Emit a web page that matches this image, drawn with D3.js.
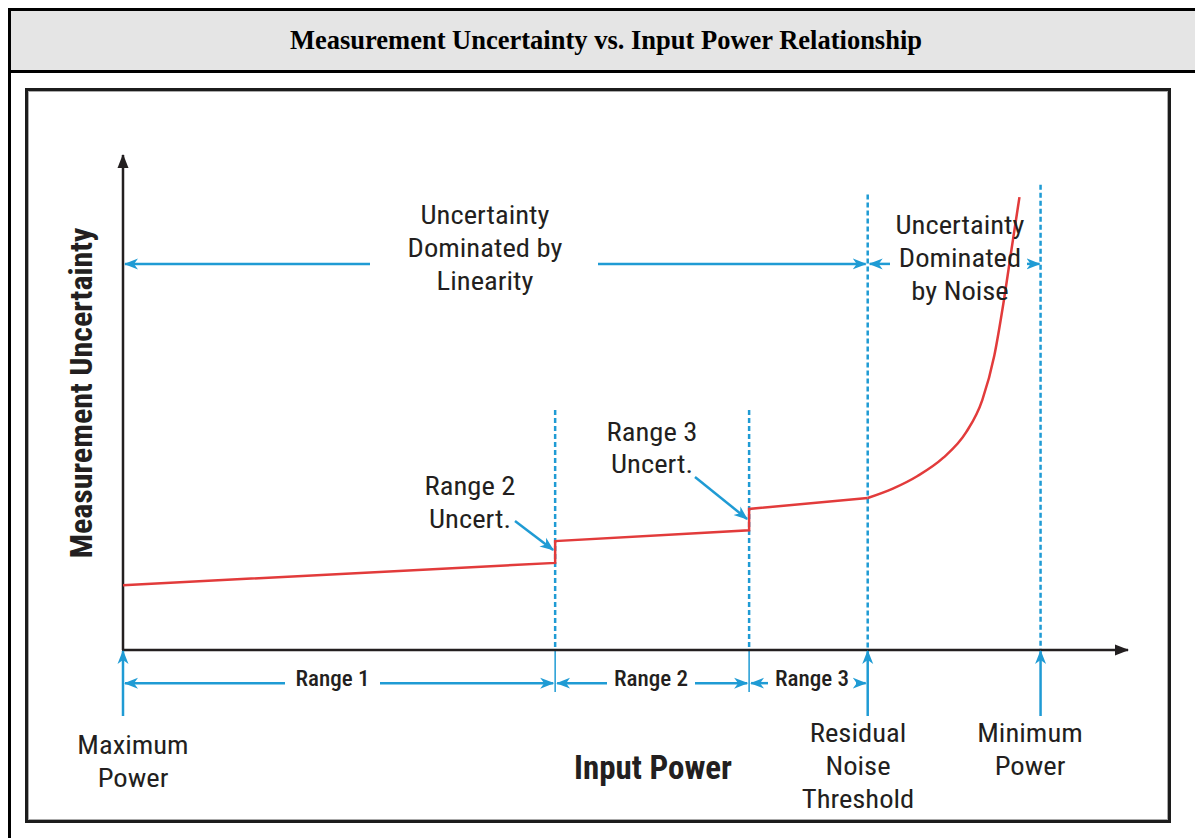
<!DOCTYPE html>
<html>
<head>
<meta charset="utf-8">
<script src="https://cdnjs.cloudflare.com/ajax/libs/d3/7.8.5/d3.min.js"></script>
<style>
  html, body { margin: 0; padding: 0; background: #fff; overflow: hidden; }
  svg { display: block; }
  .cond { font-family: "Liberation Sans Narrow", "Arial Narrow", "Roboto Condensed", sans-serif; fill: #231f20; }
</style>
</head>
<body>
<svg id="chart" width="1195" height="838"></svg>
<script>
// red uncertainty curve, linear part (steps at range changes)
var stepX = [0, 43, 43, 62.3, 62.3, 74.1];
var stepY = [13.1, 17.6, 22.0, 24.2, 28.5, 30.7];
// noise dominated part
var noiseX = [74.1, 76.6, 79.1, 81.6, 83.9, 85.5, 86.7, 87.6, 88.4, 89.2];
var noiseY = [30.7, 32.6, 35.2, 38.8, 44.0, 50.5, 59.5, 70.0, 80.8, 91.5];
// boundaries: max power, range 2, range 3, residual noise, min power
var bounds = [0, 43, 62.3, 74.1, 91.3];
var rangeNames = ["Range 1", "Range 2", "Range 3"];

var title = "Measurement Uncertainty vs. Input Power Relationship";
var blue = "#1f9bd4", red = "#e23b3b", ink = "#231f20";

var svg = d3.select("#chart");

// header cell + table borders
svg.append("rect").attr("x", 9.5).attr("y", 9.5).attr("width", 1210).attr("height", 62)
  .attr("fill", "#e5e5e5").attr("stroke", "#000").attr("stroke-width", 3);
svg.append("line").attr("x1", 9.5).attr("x2", 9.5).attr("y1", 72).attr("y2", 845)
  .attr("stroke", "#000").attr("stroke-width", 3);
svg.append("text").attr("x", 606).attr("y", 49).attr("text-anchor", "middle")
  .attr("font-family", "'Liberation Serif', 'Times New Roman', serif")
  .attr("font-weight", "bold").attr("font-size", 26.5).text(title);

// picture frame
svg.append("rect").attr("x", 26.5).attr("y", 89.5).attr("width", 1143).attr("height", 732)
  .attr("fill", "#fff").attr("stroke", "#1c1c1c").attr("stroke-width", 3);
svg.append("rect").attr("x", 28.5).attr("y", 91.5).attr("width", 1139).attr("height", 728)
  .attr("fill", "none").attr("stroke", "#aaa").attr("stroke-width", 1);

var x = d3.scaleLinear().domain([0, 100]).range([123, 1128]);
var y = d3.scaleLinear().domain([0, 100]).range([650, 155]);

var defs = svg.append("defs");
defs.append("marker").attr("id", "blueHead").attr("viewBox", "0 -6 14 12")
  .attr("refX", 13).attr("refY", 0).attr("markerWidth", 14).attr("markerHeight", 12)
  .attr("markerUnits", "userSpaceOnUse").attr("orient", "auto")
  .append("path").attr("d", "M0,-5.5L14,0L0,5.5L4,0Z").attr("fill", blue);
defs.append("marker").attr("id", "blackHead").attr("viewBox", "0 -6 14 12")
  .attr("refX", 13).attr("refY", 0).attr("markerWidth", 14).attr("markerHeight", 12)
  .attr("markerUnits", "userSpaceOnUse").attr("orient", "auto")
  .append("path").attr("d", "M0,-5.5L14,0L0,5.5Z").attr("fill", ink);

function arrow(x1, y1, x2, y2) {
  svg.append("line").attr("x1", x1).attr("y1", y1).attr("x2", x2).attr("y2", y2)
    .attr("stroke", blue).attr("stroke-width", 2.5).attr("marker-end", "url(#blueHead)");
}

function label(cx, baseline, lines, size, opts) {
  opts = opts || {};
  var g = svg.append("g").attr("transform", "translate(" + cx + "," + baseline + ")" +
    (opts.rotate ? " rotate(" + opts.rotate + ")" : "") + " scale(" + (opts.sx || 1.1) + ",1)");
  var t = g.append("text").attr("class", "cond").attr("text-anchor", "middle")
    .attr("font-size", size).attr("font-weight", opts.bold ? "bold" : (opts.weight || "normal"));
  lines.forEach(function(s, i) {
    t.append("tspan").attr("x", 0).attr("y", i * (opts.lh || 33)).text(s);
  });
}

// dashed boundary lines
var dashTops = [null, 48.5, 48.5, 92, 94];
bounds.forEach(function(b, i) {
  if (dashTops[i] === null) return;
  svg.append("line").attr("x1", x(b)).attr("x2", x(b)).attr("y1", y(dashTops[i])).attr("y2", y(0))
    .attr("stroke", blue).attr("stroke-width", 2.5).attr("stroke-dasharray", "5,3");
});
// solid ticks below the axis at range 2 / range 3 starts
[bounds[1], bounds[2]].forEach(function(b) {
  svg.append("line").attr("x1", x(b)).attr("x2", x(b)).attr("y1", y(0)).attr("y2", y(-8.5))
    .attr("stroke", blue).attr("stroke-width", 1.5);
});

// axes
svg.append("line").attr("x1", x(0)).attr("y1", y(0)).attr("x2", x(0)).attr("y2", y(100))
  .attr("stroke", ink).attr("stroke-width", 2.5).attr("marker-end", "url(#blackHead)");
svg.append("line").attr("x1", x(0) - 1).attr("y1", y(0)).attr("x2", x(100)).attr("y2", y(0))
  .attr("stroke", ink).attr("stroke-width", 2.5).attr("marker-end", "url(#blackHead)");

// red curve
var lineGen = d3.line().x(function(d) { return x(d[0]); }).y(function(d) { return y(d[1]); });
svg.append("path").datum(d3.zip(stepX, stepY)).attr("d", lineGen)
  .attr("fill", "none").attr("stroke", red).attr("stroke-width", 2.5);
svg.append("path").datum(d3.zip(noiseX, noiseY)).attr("d", lineGen.curve(d3.curveMonotoneX))
  .attr("fill", "none").attr("stroke", red).attr("stroke-width", 2.5);

// top region arrows
var ay = y(78);
arrow(370, ay, x(bounds[0]) + 2, ay);
arrow(598, ay, x(bounds[3]) - 2, ay);
arrow(890, ay, x(bounds[3]) + 2, ay);
arrow(1027, ay, x(bounds[4]) - 1, ay);
label(485, 224, ["Uncertainty", "Dominated by", "Linearity"], 26);
label(960, 234, ["Uncertainty", "Dominated", "by Noise"], 26);

// step annotations
label(470, 495, ["Range 2", "Uncert."], 26, {lh: 33});
arrow(515, 521, x(bounds[1]) - 2, 550);
label(652, 441, ["Range 3", "Uncert."], 26, {lh: 32});
arrow(695, 477, x(bounds[2]) - 2, 519);

// range arrows under the axis
var ry = y(-6.7);
var gaps = [[285, 380], [607, 695], [768, 856]];
rangeNames.forEach(function(name, i) {
  var a = x(bounds[i]), b = x(bounds[i + 1]);
  arrow(gaps[i][0], ry, a + 2, ry);
  arrow(gaps[i][1], ry, b - 2, ry);
  label((gaps[i][0] + gaps[i][1]) / 2, ry + 3, [name], 22, {sx: 1.05, weight: 500});
});

// markers for power levels
[bounds[0], bounds[3], bounds[4]].forEach(function(b) {
  arrow(x(b), 716, x(b), y(0) + 1);
});
label(133, 754, ["Maximum", "Power"], 26);
label(858, 742, ["Residual", "Noise", "Threshold"], 26);
label(1030, 742, ["Minimum", "Power"], 26);

// axis titles
label(653, 779, ["Input Power"], 33, {bold: true, sx: 1.0});
label(92, 393, ["Measurement Uncertainty"], 32, {bold: true, sx: 1.0, rotate: -90});
</script>
</body>
</html>
